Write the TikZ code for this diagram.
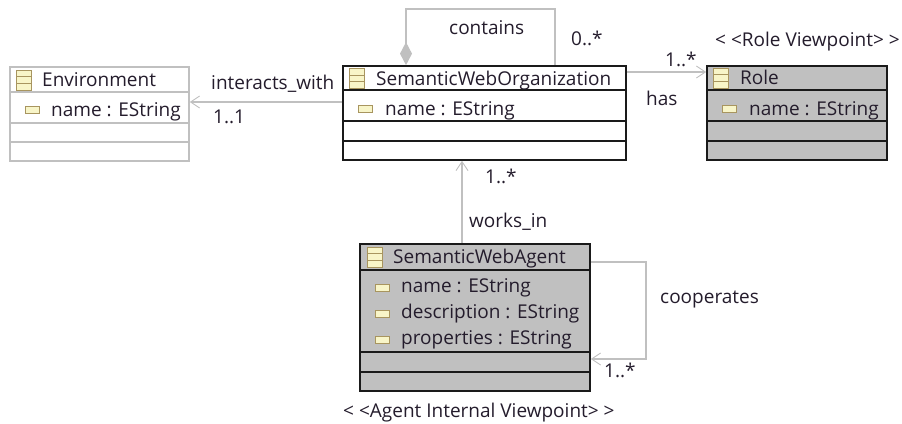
\documentclass[tikz,border=0pt]{standalone}
\usepackage{fontspec}
\setmainfont{Open Sans}
\usetikzlibrary{arrows.meta}
\definecolor{linegray}{HTML}{C0C0C0}
\definecolor{darkline}{HTML}{1A1A1A}
\definecolor{icontan}{HTML}{A8955F}
\definecolor{iconfill}{HTML}{F8F5C8}
\definecolor{labelink}{HTML}{241C2C}
\tikzset{
    classbox/.style={rectangle,draw=darkline,line width=1.7pt,inner sep=0pt},
    plainclass/.style={classbox,draw=linegray},
    viewclass/.style={classbox,fill=linegray},
    classicon/.style={rectangle,draw=icontan,fill=iconfill,line width=1pt,minimum width=15pt,minimum height=20pt,inner sep=0pt,
        path picture={
            \draw[icontan,line width=1pt] ([yshift=3.3pt]path picture bounding box.west) -- ([yshift=3.3pt]path picture bounding box.east);
            \draw[icontan,line width=1pt] ([yshift=-3.3pt]path picture bounding box.west) -- ([yshift=-3.3pt]path picture bounding box.east);
        }},
    attricon/.style={rectangle,draw=icontan,fill=iconfill,line width=1pt,minimum width=14pt,minimum height=7pt,inner sep=0pt},
    label/.style={text=labelink,font=\fontsize{19}{22}\selectfont,inner sep=0pt},
    assoc/.style={draw=linegray,line width=1.3pt},
    opentip/.style={-{Straight Barb[length=9pt,width=12pt,line width=.9pt]}}
}
\begin{document}
\begin{tikzpicture}[x=1pt,y=-1pt]
    \useasboundingbox (0,0) rectangle (902,423);

    % class boxes
    \node[plainclass,minimum width=179pt,minimum height=94pt] at (99.5,114) (env) {};
    \node[classbox,minimum width=283pt,minimum height=94pt] at (484.5,113) (org) {};
    \node[viewclass,minimum width=180pt,minimum height=94pt] at (797,113) (role) {};
    \node[viewclass,minimum width=230pt,minimum height=147pt] at (475,317.5) (agent) {};

    % compartments
    \foreach \y in {26,57,76}
        \draw[linegray,line width=1.7pt] ([yshift=-\y pt]env.north west) -- ([yshift=-\y pt]env.north east);
    \foreach \y in {25,56,76} {
        \draw[darkline,line width=1.7pt] ([yshift=-\y pt]org.north west) -- ([yshift=-\y pt]org.north east);
        \draw[darkline,line width=1.7pt] ([yshift=-\y pt]role.north west) -- ([yshift=-\y pt]role.north east);
    }
    \foreach \y in {27,109,129}
        \draw[darkline,line width=1.7pt] ([yshift=-\y pt]agent.north west) -- ([yshift=-\y pt]agent.north east);

    % icons
    \node[classicon] at (23.5,80) (envicon) {};
    \node[classicon] at (357,78.5) (orgicon) {};
    \node[classicon] at (721,78) (roleicon) {};
    \node[classicon] at (374.5,257) (agenticon) {};
    \node[attricon] at (32.5,109.5) (envattr) {};
    \node[attricon] at (365.5,108.5) (orgattr) {};
    \node[attricon] at (729.5,108.5) (roleattr) {};
    \node[attricon] at (382.5,287.5) (agentattra) {};
    \node[attricon] at (382.5,313.5) (agentattrb) {};
    \node[attricon] at (382.5,339.5) (agentattrc) {};

    % class texts
    \node[label,anchor=base west] at (42,86) (envname) {Environment};
    \node[label,anchor=base west] at (51,116) (envfield) {name : EString};
    \node[label,anchor=base west] at (376,85) (orgname) {SemanticWebOrganization};
    \node[label,anchor=base west] at (385,115) (orgfield) {name : EString};
    \node[label,anchor=base west] at (740,84) (rolename) {Role};
    \node[label,anchor=base west] at (749,115) (rolefield) {name : EString};
    \node[label,anchor=base west] at (393,263) (agentname) {SemanticWebAgent};
    \node[label,anchor=base west] at (401,292) (agentfielda) {name : EString};
    \node[label,anchor=base west] at (401,318) (agentfieldb) {description : EString};
    \node[label,anchor=base west] at (401,344) (agentfieldc) {properties : EString};

    % connectors
    \draw[assoc,opentip] ([yshift=11pt]org.west) -- ([yshift=12pt]env.east);
    \draw[assoc,opentip] ([yshift=41pt]org.east) -- ([yshift=41pt]role.west);
    \draw[assoc,opentip] (agent.north -| 462,0) -- (org.south -| 462,0);
    \coordinate (loopa) at (406,9);
    \coordinate (loopb) at (555,9);
    \draw[assoc,{Diamond[length=23pt,width=12pt]}-] (org.north -| loopa) -- (loopa) -- (loopb) -- (org.north -| loopb);
    \coordinate (loopc) at (646,262);
    \coordinate (loopd) at (646,359);
    \draw[assoc,opentip] (agent.east |- loopc) -- (loopc) -- (loopd) -- (agent.east |- loopd);

    % connector labels
    \node[label,anchor=base west] at (211,89) (interactslabel) {interacts\_with};
    \node[label,anchor=base west] at (213,123) (envmult) {1..1};
    \node[label,anchor=base west] at (449,34) (containslabel) {contains};
    \node[label,anchor=base west] at (571,45) (containsmult) {0..*};
    \node[label,anchor=base west] at (646,105) (haslabel) {has};
    \node[label,anchor=base west] at (665,66) (rolemult) {1..*};
    \node[label,anchor=base west] at (715,46) (roleview) {<\kern5pt<Role Viewpoint>\kern5pt>};
    \node[label,anchor=base west] at (485,183) (orgmult) {1..*};
    \node[label,anchor=base west] at (469,227) (workslabel) {works\_in};
    \node[label,anchor=base west] at (660,303) (cooplabel) {cooperates};
    \node[label,anchor=base west] at (604,377) (coopmult) {1..*};
    \node[label,anchor=base west] at (343,417) (agentview) {<\kern5pt<Agent Internal Viewpoint>\kern5pt>};
\end{tikzpicture}
\end{document}
